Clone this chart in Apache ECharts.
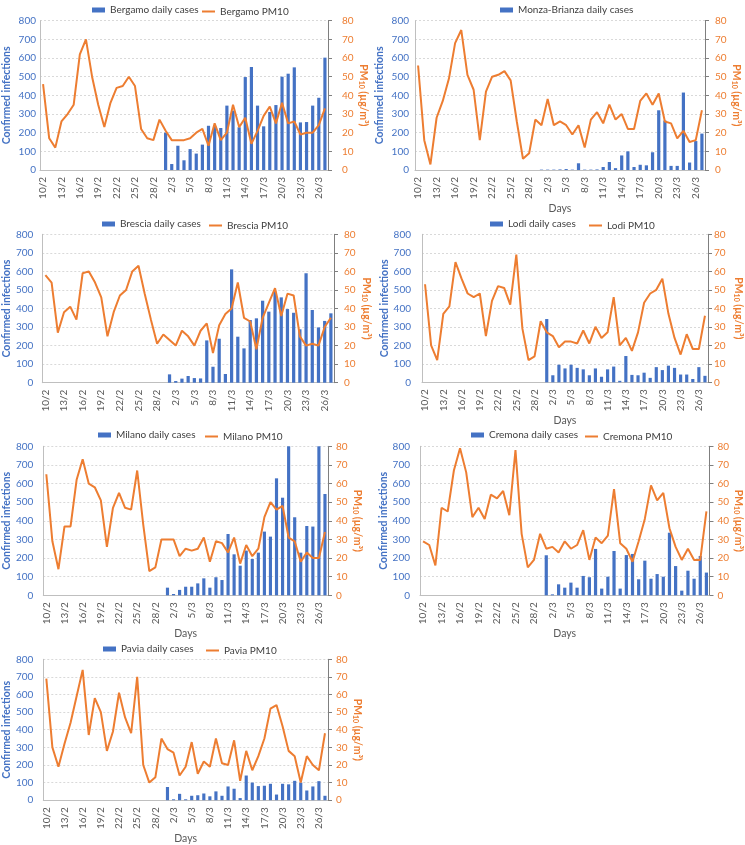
<!DOCTYPE html>
<html>
<head>
<meta charset="utf-8">
<script src="https://cdn.jsdelivr.net/npm/echarts@6/dist/echarts.min.js"></script>
<style>
html,body{margin:0;padding:0;background:#fff;}
#c{width:745px;height:845px;}
</style>
</head>
<body>
<div id="c"></div>
<script>
// ---- Data ----
const dates = ['10/2','11/2','12/2','13/2','14/2','15/2','16/2','17/2','18/2','19/2','20/2','21/2','22/2','23/2','24/2','25/2','26/2','27/2','28/2','29/2',
  '1/3','2/3','3/3','4/3','5/3','6/3','7/3','8/3','9/3','10/3','11/3','12/3','13/3','14/3','15/3','16/3','17/3','18/3','19/3','20/3','21/3','22/3','23/3','24/3','25/3','26/3','27/3'];
const caseDates = ['1/3','2/3','3/3','4/3','5/3','6/3','7/3','8/3','9/3','10/3','11/3','12/3','13/3','14/3','15/3','16/3','17/3','18/3','19/3','20/3','21/3','22/3','23/3','24/3','25/3','26/3','27/3'];

const bergamoCases = [200,32,130,52,112,88,136,237,235,225,345,318,229,498,552,345,234,311,348,500,516,550,255,257,345,387,602];
const bergamoPM10  = [46,17,12,26,30,35,62,70,50,35,23,36,44,45,50,45,22,17,16,27,21,16,16,16,17,20,22,13,25,16,20,35,23,28,14,21,29,34,25,36,25,26,19,20,20,24,33];

const monzaCases = [2,2,2,3,5,2,36,2,2,3,16,43,10,78,100,16,28,25,95,320,265,22,22,415,40,155,195];
const monzaPM10  = [56,16,3,28,37,49,68,75,51,43,16,42,50,51,53,48,26,6,9,27,24,38,24,26,24,19,24,12,27,31,25,35,27,30,22,22,37,41,35,41,26,25,17,21,15,16,32];

const bresciaCases = [45,9,22,36,25,23,228,86,237,47,611,248,185,338,347,442,383,491,460,397,377,288,590,392,298,333,374];
const bresciaPM10  = [58,54,27,38,41,34,59,60,54,46,25,38,47,50,60,63,48,34,21,26,23,20,28,25,20,28,32,16,31,37,40,54,35,33,18,35,43,51,36,48,47,25,20,21,20,30,35];

const lodiCases = [342,38,95,75,95,78,70,38,75,30,70,85,8,142,40,38,52,24,82,66,90,78,42,42,18,82,35];
const lodiPM10  = [53,20,12,37,41,65,56,48,46,48,25,44,52,51,42,69,29,12,14,33,27,25,19,22,22,21,28,21,30,24,27,46,20,24,17,27,43,48,50,56,37,24,15,26,18,18,36];

const milanoCases = [41,7,29,46,46,64,91,41,97,82,329,220,159,240,195,229,342,315,628,524,800,419,229,372,369,800,544];
const milanoPM10  = [65,29,14,37,37,62,73,60,58,51,26,47,55,47,46,67,38,13,15,30,30,30,21,25,24,25,31,18,29,28,23,31,17,27,21,25,42,50,46,48,31,29,18,23,20,20,34];

const cremonaCases = [215,5,59,41,68,41,104,97,249,36,100,238,36,216,222,86,186,89,114,100,336,157,25,132,89,211,122];
const cremonaPM10  = [29,27,16,47,45,67,79,66,42,47,41,54,52,56,43,78,33,15,19,33,25,26,23,29,25,27,35,19,31,28,32,57,28,25,18,29,41,59,51,55,36,26,19,25,19,19,45];

const paviaCases = [75,5,36,5,25,28,38,22,50,25,78,65,12,140,100,80,82,93,32,93,90,110,100,55,78,108,25];
const paviaPM10  = [69,30,19,32,44,59,74,37,58,50,28,39,61,47,38,70,20,10,13,35,29,27,14,19,33,15,22,19,35,21,20,34,11,28,17,25,35,52,54,42,28,25,10,25,20,17,38];

const leftTicks = [0,100,200,300,400,500,600,700,800];
const rightTicks = [0,10,20,30,40,50,60,70,80];

// ---- Layout ----
const BLUE = '#4472C4', ORANGE = '#ED7D31';
const FONT = 'Lato, "Liberation Sans", sans-serif';
const panels = [
  {label:'Bergamo', cases:bergamoCases, pm:bergamoPM10, left:40, top:20.7, width:288, height:149.3,
   lg1:[87,0], lg2:[197,0], days:null, lGap:28, rGap:24, lMargin:4, rMargin:14},
  {label:'Monza-Brianza', cases:monzaCases, pm:monzaPM10, left:415, top:20.7, width:290, height:149.3,
   lg1:[495,0], lg2:null, days:26, lGap:30, rGap:24, lMargin:6, rMargin:10},
  {label:'Brescia', cases:bresciaCases, pm:bresciaPM10, left:40, top:234.3, width:294, height:148.4,
   lg1:[97,214], lg2:[204,214], days:null, lGap:30, rGap:27, lMargin:9, rMargin:10},
  {label:'Lodi', cases:lodiCases, pm:lodiPM10, left:422, top:234.3, width:288, height:148,
   lg1:[485,214], lg2:[584,214], days:25, lGap:29, rGap:25, lMargin:11, rMargin:6},
  {label:'Milano', cases:milanoCases, pm:milanoPM10, left:39, top:446.3, width:289, height:149,
   lg1:[93,425], lg2:[200,425], days:27, lGap:29, rGap:20, lMargin:10, rMargin:8},
  {label:'Cremona', cases:cremonaCases, pm:cremonaPM10, left:466, top:446.3, width:291, height:149,
   lg1:[466,425], lg2:[580,425], days:27, lGap:30, rGap:22, lMargin:10, rMargin:8},
  {label:'Pavia', cases:paviaCases, pm:paviaPM10, left:39, top:659.3, width:289, height:149,
   lg1:[98,639], lg2:[201,639], days:24, lGap:29, rGap:20, lMargin:10, rMargin:8}
];
panels[5].left = 420;

const grid = [], xAxis = [], yAxis = [], series = [], legend = [];
panels.forEach((p, k) => {
  grid.push({left:p.left, top:p.top, width:p.width, height:p.height, containLabel:false});
  xAxis.push({
    type:'category', gridIndex:k, data:dates, boundaryGap:true,
    axisLine:{show:true, lineStyle:{color:'#bfbfbf', width:1}},
    axisTick:{show:false},
    axisLabel:{interval:2, rotate:90, fontSize:10, color:'#595959', margin:7, fontFamily:FONT},
    name: p.days ? 'Days' : '', nameLocation:'middle', nameGap:p.days || 0,
    nameTextStyle:{fontSize:10.5, color:'#595959', fontFamily:FONT, verticalAlign:'top'}
  });
  yAxis.push({
    type:'value', gridIndex:k, min:leftTicks[0], max:leftTicks[leftTicks.length-1], interval:leftTicks[1]-leftTicks[0],
    position:'left',
    axisLine:{show:true, lineStyle:{color:'#bfbfbf', width:1}},
    axisTick:{show:false},
    splitLine:{show:true, lineStyle:{color:'#d9d9d9', type:[2,2], width:1}},
    axisLabel:{color:BLUE, fontSize:10, margin:p.lMargin, fontFamily:FONT},
    name:'Confirmed infections', nameLocation:'middle', nameRotate:90, nameGap:p.lGap,
    nameTextStyle:{color:BLUE, fontWeight:'bold', fontSize:10.5, fontFamily:FONT}
  });
  yAxis.push({
    type:'value', gridIndex:k, min:rightTicks[0], max:rightTicks[rightTicks.length-1], interval:rightTicks[1]-rightTicks[0],
    position:'right',
    axisLine:{show:true, lineStyle:{color:'#7f7f7f', width:1}},
    axisTick:{show:true, inside:false, length:4, lineStyle:{color:'#7f7f7f'}},
    splitLine:{show:false},
    axisLabel:{color:ORANGE, fontSize:10, margin:p.rMargin, fontFamily:FONT},
    name:'PM{s|10} (µg/m³)', nameLocation:'middle', nameRotate:-90, nameGap:p.rGap,
    nameTextStyle:{color:ORANGE, fontWeight:'bold', fontSize:10.5, fontFamily:FONT,
      rich:{s:{fontSize:7, fontWeight:'bold', color:ORANGE, fontFamily:FONT, verticalAlign:'bottom', padding:[4,0,0,0]}}}
  });
  const barName = p.label + ' daily cases';
  const lineName = p.label + ' PM10';
  series.push({
    type:'bar', name:barName, xAxisIndex:k, yAxisIndex:2*k,
    data: caseDates.map((d,i) => [d, p.cases[i]]),
    barWidth:'52%', itemStyle:{color:BLUE}, clip:true, z:2
  });
  series.push({
    type:'line', name:lineName, xAxisIndex:k, yAxisIndex:2*k+1,
    data:p.pm, symbol:'none', showSymbol:false,
    lineStyle:{color:ORANGE, width:2}, itemStyle:{color:ORANGE}, z:3
  });
  legend.push({
    left:p.lg1[0], top:p.lg1[1], data:[{name:barName, icon:'rect'}],
    itemWidth:13, itemHeight:5, itemGap:8, textStyle:{fontSize:10, color:'#404040', fontFamily:FONT}
  });
  if (p.lg2) {
    legend.push({
      left:p.lg2[0], top:p.lg2[1] + 1.5, data:[{name:lineName, icon:'rect'}],
      itemWidth:13, itemHeight:2, itemGap:8, textStyle:{fontSize:10, color:'#404040', fontFamily:FONT}
    });
  }
});

const chart = echarts.init(document.getElementById('c'), null, {renderer:'canvas'});
chart.setOption({
  animation:false,
  backgroundColor:'#ffffff',
  textStyle:{fontFamily:FONT},
  grid, xAxis, yAxis, series, legend
});
</script>
</body>
</html>
